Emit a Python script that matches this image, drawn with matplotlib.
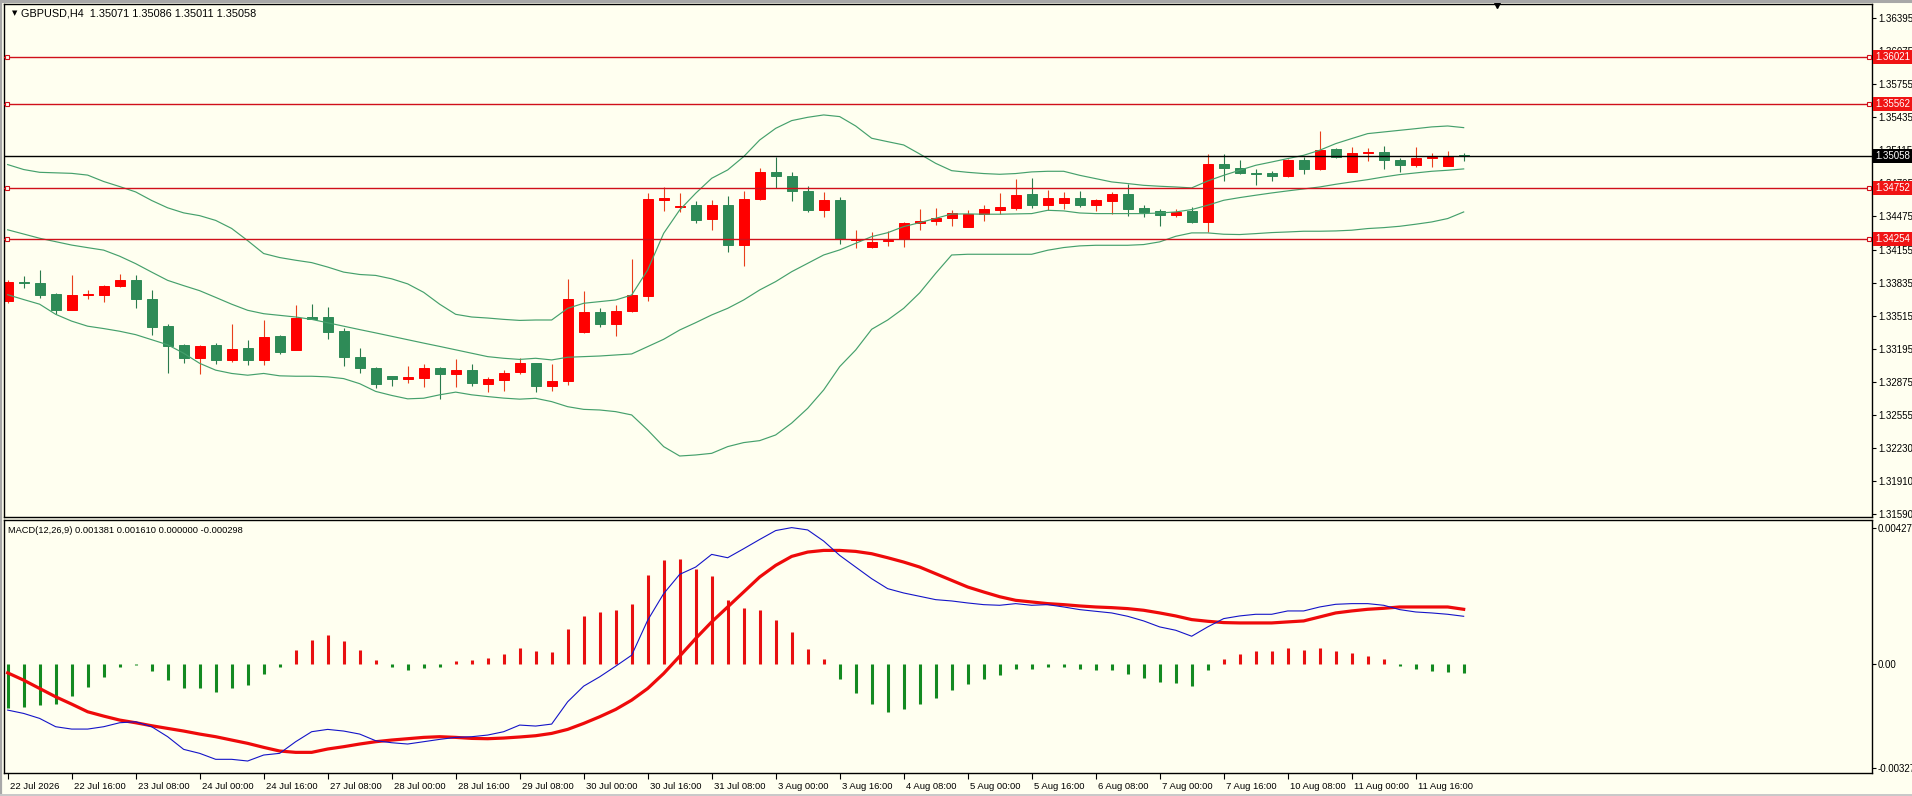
import matplotlib
matplotlib.use("Agg")
import matplotlib.pyplot as plt
import numpy as np
from matplotlib.lines import Line2D
from matplotlib.transforms import blended_transform_factory, ScaledTranslation

# ---- GBPUSD H4 candles (22 Jul 2026 00:00 .. 12 Aug 04:00) ----
open_ = [1.33658, 1.33838, 1.33835, 1.33723, 1.33573, 1.33714, 1.33714, 1.33799, 1.33861, 1.33674,
         1.33412, 1.33225, 1.33101, 1.33225, 1.33081, 1.33196, 1.33081, 1.33314, 1.33186, 1.33497,
         1.33501, 1.33363, 1.33114, 1.33009, 1.32927, 1.32904, 1.32914, 1.33009, 1.32953, 1.32990,
         1.32849, 1.32891, 1.32972, 1.33052, 1.32836, 1.32884, 1.33353, 1.33550, 1.33437, 1.33556,
         1.33708, 1.34638, 1.34564, 1.34583, 1.34454, 1.34583, 1.34202, 1.34642, 1.34906, 1.34864,
         1.34722, 1.34541, 1.34635, 1.34247, 1.34176, 1.34235, 1.34254, 1.34415, 1.34428, 1.34457,
         1.34374, 1.34500, 1.34539, 1.34558, 1.34690, 1.34587, 1.34610, 1.34658, 1.34587, 1.34629,
         1.34690, 1.34555, 1.34526, 1.34487, 1.34529, 1.34426, 1.34987, 1.34945, 1.34900, 1.34894,
         1.34871, 1.35026, 1.34936, 1.35133, 1.34910, 1.35091, 1.35104, 1.35026, 1.34974, 1.35042,
         1.34968, 1.35071]
high = [1.33861, 1.33894, 1.33953, 1.33733, 1.33904, 1.33763, 1.33809, 1.33920, 1.33904, 1.33763,
        1.33432, 1.33239, 1.33225, 1.33252, 1.33435, 1.33275, 1.33471, 1.33324, 1.33619, 1.33628,
        1.33602, 1.33396, 1.33199, 1.33019, 1.32934, 1.33029, 1.33042, 1.33016, 1.33098, 1.33042,
        1.32917, 1.32986, 1.33101, 1.33059, 1.33046, 1.33866, 1.33753, 1.33589, 1.33618, 1.34067,
        1.34700, 1.34761, 1.34700, 1.34625, 1.34635, 1.34674, 1.34722, 1.34942, 1.35055, 1.34906,
        1.34774, 1.34713, 1.34661, 1.34344, 1.34322, 1.34335, 1.34422, 1.34548, 1.34558, 1.34538,
        1.34540, 1.34590, 1.34700, 1.34836, 1.34852, 1.34729, 1.34710, 1.34723, 1.34648, 1.34713,
        1.34787, 1.34584, 1.34545, 1.34548, 1.34568, 1.35078, 1.35084, 1.35026, 1.34939, 1.34916,
        1.35036, 1.35052, 1.35301, 1.35139, 1.35149, 1.35142, 1.35155, 1.35045, 1.35149, 1.35091,
        1.35107, 1.35086]
low = [1.33641, 1.33782, 1.33681, 1.33527, 1.33566, 1.33671, 1.33648, 1.33789, 1.33592, 1.33330,
       1.32963, 1.33052, 1.32944, 1.33042, 1.33062, 1.33035, 1.33035, 1.33140, 1.33180, 1.33478,
       1.33288, 1.33022, 1.32963, 1.32816, 1.32829, 1.32865, 1.32826, 1.32708, 1.32822, 1.32832,
       1.32773, 1.32786, 1.32949, 1.32778, 1.32787, 1.32839, 1.33347, 1.33408, 1.33320, 1.33550,
       1.33656, 1.34532, 1.34522, 1.34415, 1.34344, 1.34131, 1.33999, 1.34635, 1.34751, 1.34625,
       1.34519, 1.34467, 1.34209, 1.34167, 1.34167, 1.34189, 1.34183, 1.34344, 1.34390, 1.34386,
       1.34370, 1.34432, 1.34497, 1.34535, 1.34558, 1.34535, 1.34545, 1.34568, 1.34529, 1.34503,
       1.34480, 1.34471, 1.34384, 1.34471, 1.34413, 1.34322, 1.34820, 1.34884, 1.34784, 1.34820,
       1.34858, 1.34891, 1.34929, 1.35042, 1.34905, 1.35013, 1.34936, 1.34903, 1.34955, 1.34955,
       1.34965, 1.35011]
close_ = [1.33845, 1.33831, 1.33717, 1.33573, 1.33714, 1.33723, 1.33802, 1.33861, 1.33671, 1.33406,
          1.33219, 1.33101, 1.33222, 1.33081, 1.33193, 1.33081, 1.33311, 1.33166, 1.33494, 1.33484,
          1.33356, 1.33111, 1.33003, 1.32855, 1.32904, 1.32917, 1.33006, 1.32953, 1.32986, 1.32865,
          1.32898, 1.32960, 1.33052, 1.32836, 1.32884, 1.33673, 1.33550, 1.33437, 1.33559, 1.33711,
          1.34645, 1.34651, 1.34574, 1.34444, 1.34583, 1.34202, 1.34642, 1.34903, 1.34871, 1.34719,
          1.34538, 1.34632, 1.34260, 1.34257, 1.34231, 1.34251, 1.34415, 1.34428, 1.34461, 1.34506,
          1.34500, 1.34545, 1.34564, 1.34687, 1.34587, 1.34658, 1.34658, 1.34587, 1.34632, 1.34690,
          1.34548, 1.34519, 1.34490, 1.34516, 1.34419, 1.34987, 1.34949, 1.34900, 1.34891, 1.34871,
          1.35026, 1.34936, 1.35123, 1.35052, 1.35094, 1.35104, 1.35023, 1.34974, 1.35045, 1.35055,
          1.35065, 1.35058]

# ---- Bollinger bands as drawn ----
bb_upper = [1.34978, 1.34930, 1.34903, 1.34898, 1.34893, 1.34876, 1.34814, 1.34765, 1.34713, 1.34630,
            1.34559, 1.34510, 1.34483, 1.34437, 1.34359, 1.34241, 1.34116, 1.34077, 1.34051, 1.34028,
            1.33985, 1.33936, 1.33913, 1.33904, 1.33871, 1.33822, 1.33740, 1.33625, 1.33527, 1.33501,
            1.33491, 1.33478, 1.33468, 1.33472, 1.33472, 1.33585, 1.33634, 1.33650, 1.33666, 1.33714,
            1.33957, 1.34312, 1.34538, 1.34700, 1.34845, 1.34926, 1.35055, 1.35216, 1.35329, 1.35404,
            1.35436, 1.35459, 1.35443, 1.35352, 1.35233, 1.35200, 1.35168, 1.35081, 1.34990, 1.34919,
            1.34903, 1.34891, 1.34884, 1.34891, 1.34907, 1.34913, 1.34913, 1.34874, 1.34842, 1.34810,
            1.34794, 1.34777, 1.34768, 1.34761, 1.34752, 1.34819, 1.34874, 1.34923, 1.34971, 1.35003,
            1.35036, 1.35068, 1.35117, 1.35181, 1.35230, 1.35278, 1.35294, 1.35310, 1.35326, 1.35343,
            1.35352, 1.35336]
bb_middle = [1.34346, 1.34305, 1.34264, 1.34231, 1.34198, 1.34173, 1.34149, 1.34090, 1.34018, 1.33936,
             1.33856, 1.33805, 1.33756, 1.33691, 1.33625, 1.33566, 1.33533, 1.33517, 1.33501, 1.33478,
             1.33445, 1.33412, 1.33379, 1.33347, 1.33314, 1.33281, 1.33248, 1.33216, 1.33183, 1.33150,
             1.33117, 1.33101, 1.33090, 1.33101, 1.33085, 1.33111, 1.33117, 1.33123, 1.33133, 1.33143,
             1.33214, 1.33285, 1.33375, 1.33446, 1.33521, 1.33585, 1.33666, 1.33763, 1.33844, 1.33940,
             1.34021, 1.34102, 1.34151, 1.34215, 1.34280, 1.34318, 1.34377, 1.34415, 1.34457, 1.34499,
             1.34500, 1.34497, 1.34497, 1.34500, 1.34503, 1.34535, 1.34529, 1.34509, 1.34503, 1.34503,
             1.34503, 1.34503, 1.34509, 1.34519, 1.34542, 1.34584, 1.34632, 1.34658, 1.34681, 1.34703,
             1.34723, 1.34742, 1.34761, 1.34787, 1.34810, 1.34832, 1.34858, 1.34881, 1.34897, 1.34913,
             1.34923, 1.34936]
bb_lower = [1.33717, 1.33670, 1.33625, 1.33527, 1.33461, 1.33412, 1.33389, 1.33363, 1.33330, 1.33281,
            1.33232, 1.33150, 1.33052, 1.32986, 1.32954, 1.32937, 1.32954, 1.32931, 1.32927, 1.32927,
            1.32921, 1.32904, 1.32855, 1.32780, 1.32741, 1.32708, 1.32714, 1.32747, 1.32773, 1.32747,
            1.32730, 1.32715, 1.32705, 1.32713, 1.32681, 1.32632, 1.32606, 1.32600, 1.32584, 1.32552,
            1.32406, 1.32245, 1.32154, 1.32164, 1.32180, 1.32245, 1.32284, 1.32303, 1.32358, 1.32473,
            1.32616, 1.32794, 1.33020, 1.33181, 1.33382, 1.33472, 1.33585, 1.33735, 1.33924, 1.34102,
            1.34109, 1.34109, 1.34109, 1.34109, 1.34109, 1.34148, 1.34174, 1.34190, 1.34196, 1.34196,
            1.34196, 1.34203, 1.34229, 1.34283, 1.34316, 1.34316, 1.34303, 1.34300, 1.34309, 1.34319,
            1.34325, 1.34332, 1.34332, 1.34335, 1.34342, 1.34358, 1.34367, 1.34380, 1.34400, 1.34422,
            1.34455, 1.34519]

# ---- MACD(12,26,9) ----
macd_main = [-0.001464, -0.001569, -0.001726, -0.001987, -0.002061, -0.002061, -0.001987, -0.001862,
             -0.001831, -0.001987, -0.002301, -0.002699, -0.002824, -0.003012, -0.003012, -0.003065,
             -0.002877, -0.002824, -0.002458, -0.002144, -0.002071, -0.002123, -0.002218, -0.002427,
             -0.002490, -0.002531, -0.002458, -0.002385, -0.002322, -0.002301, -0.002249, -0.002144,
             -0.001935, -0.001966, -0.001904, -0.001203, -0.000711, -0.000418, -0.000084, 0.000262,
             0.001360, 0.002197, 0.002803, 0.003033, 0.003431, 0.003326, 0.003609, 0.003900,
             0.004180, 0.004273, 0.004200, 0.003850, 0.003400, 0.003033, 0.002667, 0.002354,
             0.002218, 0.002113, 0.002008, 0.001967, 0.001904, 0.001851, 0.001831, 0.001883,
             0.001831, 0.001851, 0.001778, 0.001695, 0.001642, 0.001590, 0.001485, 0.001339,
             0.001151, 0.001046, 0.000858, 0.001151, 0.001412, 0.001496, 0.001548, 0.001548,
             0.001653, 0.001653, 0.001778, 0.001862, 0.001883, 0.001883, 0.001831, 0.001695,
             0.001621, 0.001590, 0.001548, 0.001485]
macd_signal = [-0.000293, -0.000523, -0.000785, -0.001046, -0.001276, -0.001517, -0.001653, -0.001778,
               -0.001862, -0.001956, -0.002040, -0.002123, -0.002218, -0.002301, -0.002406, -0.002510,
               -0.002636, -0.002751, -0.002793, -0.002793, -0.002688, -0.002615, -0.002531, -0.002458,
               -0.002406, -0.002364, -0.002322, -0.002301, -0.002322, -0.002354, -0.002364, -0.002343,
               -0.002310, -0.002270, -0.002197, -0.002071, -0.001883, -0.001674, -0.001443, -0.001151,
               -0.000785, -0.000314, 0.000230, 0.000785, 0.001308, 0.001778, 0.002249, 0.002720,
               0.003086, 0.003368, 0.003504, 0.003556, 0.003556, 0.003525, 0.003452, 0.003326,
               0.003190, 0.003033, 0.002824, 0.002615, 0.002406, 0.002249, 0.002100, 0.001987,
               0.001935, 0.001883, 0.001851, 0.001810, 0.001778, 0.001757, 0.001726, 0.001674,
               0.001590, 0.001496, 0.001381, 0.001328, 0.001287, 0.001276, 0.001276, 0.001276,
               0.001308, 0.001339, 0.001464, 0.001590, 0.001653, 0.001705, 0.001736, 0.001778,
               0.001778, 0.001778, 0.001778, 0.001705]
macd_hist = [-0.001412, -0.001360, -0.001308, -0.001276, -0.001015, -0.000732, -0.000418, -0.000105,
             -0.000052, -0.000230, -0.000523, -0.000764, -0.000785, -0.000889, -0.000764, -0.000680,
             -0.000335, -0.000105, 0.000418, 0.000753, 0.000889, 0.000711, 0.000418, 0.000105,
             -0.000105, -0.000209, -0.000136, -0.000105, 0.000073, 0.000105, 0.000188, 0.000314,
             0.000481, 0.000387, 0.000356, 0.001098, 0.001485, 0.001611, 0.001695, 0.001862,
             0.002772, 0.003243, 0.003295, 0.002981, 0.002741, 0.002008, 0.001757, 0.001674,
             0.001381, 0.000994, 0.000471, 0.000157, -0.000471, -0.000920, -0.001287, -0.001517,
             -0.001423, -0.001276, -0.001077, -0.000837, -0.000638, -0.000471, -0.000356, -0.000178,
             -0.000167, -0.000105, -0.000105, -0.000167, -0.000209, -0.000209, -0.000314, -0.000450,
             -0.000575, -0.000607, -0.000711, -0.000209, 0.000136, 0.000293, 0.000397, 0.000397,
             0.000481, 0.000439, 0.000481, 0.000397, 0.000324, 0.000251, 0.000136, -0.000084,
             -0.000167, -0.000241, -0.000272, -0.000298]

# horizontal lines on the chart
levels = [1.36021, 1.35562, 1.34752, 1.34254]
bid = 1.35058

price_ticks = [1.36395, 1.36075, 1.35755, 1.35435, 1.35115, 1.34795, 1.34475, 1.34155,
               1.33835, 1.33515, 1.33195, 1.32875, 1.32555, 1.32230, 1.31910, 1.31590]
macd_ticks = [0.004273, 0.0, -0.00327]
macd_tick_labels = ["0.004273", "0.00", "-0.00327"]
date_labels = ["22 Jul 2026", "22 Jul 16:00", "23 Jul 08:00", "24 Jul 00:00", "24 Jul 16:00",
               "27 Jul 08:00", "28 Jul 00:00", "28 Jul 16:00", "29 Jul 08:00", "30 Jul 00:00",
               "30 Jul 16:00", "31 Jul 08:00", "3 Aug 00:00", "3 Aug 16:00", "4 Aug 08:00",
               "5 Aug 00:00", "5 Aug 16:00", "6 Aug 08:00", "7 Aug 00:00", "7 Aug 16:00",
               "10 Aug 08:00", "11 Aug 00:00", "11 Aug 16:00"]
macd_title = "MACD(12,26,9) 0.001381 0.001610 0.000000 -0.000298"

BG = "#FFFFF0"
UP_BODY = "#FF0000"
UP_WICK = "#E8401C"
DN_BODY = "#2E8B57"
DN_WICK = "#2A7A4C"
BAND = "#45A06C"
LEVEL = "#D0101A"
FONT = "Liberation Sans"

plt.rcParams["font.family"] = [FONT, "DejaVu Sans"]
plt.rcParams["font.size"] = 7

o = np.array(open_)
h = np.array(high)
l = np.array(low)
c = np.array(close_)
x = np.arange(len(c))
up = c >= o

W, H = 1912, 796
fig = plt.figure(figsize=(W / 100, H / 100), dpi=100, facecolor=BG)
left = 3.5 / W
width = (1872 - 3.5) / W
ax1 = fig.add_axes([left, (H - 517) / H, width, (517 - 4) / H], facecolor=BG)
ax2 = fig.add_axes([left, (H - 773) / H, width, (773 - 519.5) / H], facecolor=BG)

xmin, xmax = -0.26, 116.52

# ---- main chart ----
ax1.vlines(x[up], l[up], h[up], color=UP_WICK, lw=0.8, zorder=2)
ax1.vlines(x[~up], l[~up], h[~up], color=DN_WICK, lw=0.8, zorder=2)
ax1.bar(x[up], (c - o)[up], bottom=o[up], width=0.62, color=UP_BODY,
        edgecolor=UP_BODY, linewidth=0.7, zorder=2.2)
ax1.bar(x[~up], (o - c)[~up], bottom=c[~up], width=0.62, color=DN_BODY,
        edgecolor=DN_BODY, linewidth=0.7, zorder=2.2)

for band in (bb_upper, bb_middle, bb_lower):
    ax1.plot(x, band, color=BAND, lw=0.85, zorder=3)

trans1 = blended_transform_factory(ax1.transAxes, ax1.transData)
for lv in levels:
    ax1.axhline(lv, color=LEVEL, lw=1.0, zorder=4)
    ax1.plot([0.0019, 0.9984], [lv, lv], "s", ms=3.2, mfc=BG, mec=LEVEL, mew=0.8,
             transform=trans1, zorder=5, clip_on=False)
    ax1.text(1.0016, lv, f"{lv:.5f}", transform=trans1, ha="left", va="center",
             color="white", fontsize=7, zorder=10, clip_on=False,
             bbox=dict(boxstyle="square,pad=0.22", fc="#F01414", ec="none"))
ax1.axhline(bid, color="black", lw=1.0, zorder=4)
ax1.text(1.0016, bid, f"{bid:.5f}", transform=trans1, ha="left", va="center",
         color="white", fontsize=7, zorder=10, clip_on=False,
         bbox=dict(boxstyle="square,pad=0.22", fc="black", ec="none"))

ax1.set_xlim(xmin, xmax)
ax1.set_ylim(1.31563, 1.36534)
ax1.yaxis.tick_right()
ax1.set_yticks(price_ticks)
ax1.set_yticklabels([f"{t:.5f}" for t in price_ticks])
ax1.tick_params(axis="y", direction="out", length=3, width=0.8, pad=1.3, labelsize=7)
ax1.set_xticks([])

# chart shift marker on top border
ax1.plot([93.1], [1.0], marker="v", ms=6, color="black",
         transform=blended_transform_factory(ax1.transData, ax1.transAxes),
         clip_on=False, zorder=10)

title = f"GBPUSD,H4  {o[-1]:.5f} {h[-1]:.5f} {l[-1]:.5f} {c[-1]:.5f}"
ax1.text(0.0045, 0.982, "\u25bc", transform=ax1.transAxes, fontsize=5,
         family="DejaVu Sans", va="center", ha="left")
ax1.text(0.0095, 0.982, title, transform=ax1.transAxes, fontsize=7.8, va="center", ha="left")

# ---- MACD window ----
hist = np.array(macd_hist)
hist_colors = np.where(hist > 0, "#E81010", "#138A20")
ax2.vlines(x, 0, hist, colors=hist_colors, lw=2.2, zorder=2)
ax2.plot(x, macd_signal, color="#EE0A0A", lw=2.3, zorder=3)
ax2.plot(x, macd_main, color="#1414C8", lw=0.8, zorder=4)

ax2.set_xlim(xmin, xmax)
ax2.set_ylim(-0.003442, 0.004528)
ax2.yaxis.tick_right()
ax2.set_yticks(macd_ticks)
ax2.set_yticklabels(macd_tick_labels)
ax2.tick_params(axis="y", direction="out", length=3, width=0.8, pad=1.3, labelsize=7)

tick_pos = x[::4][:len(date_labels)]
ax2.set_xticks(tick_pos)
ax2.set_xticklabels(date_labels, ha="left")
ax2.tick_params(axis="x", direction="out", length=4, width=0.8, pad=2.5, labelsize=6.8)
shift = ScaledTranslation(1.5 / 72, 0, fig.dpi_scale_trans)
for lab in ax2.get_xticklabels():
    lab.set_transform(lab.get_transform() + shift)

ax2.text(0.0025, 0.955, macd_title, transform=ax2.transAxes, fontsize=6.7, va="center", ha="left")

for ax in (ax1, ax2):
    for sp in ax.spines.values():
        sp.set_color("black")
        sp.set_linewidth(1.0)

# grey window frame
fig.add_artist(Line2D([0, 1], [1 - 1.2 / H, 1 - 1.2 / H], transform=fig.transFigure,
                      color="#A8A8A8", lw=2.2))
fig.add_artist(Line2D([1.0 / W, 1.0 / W], [0, 1], transform=fig.transFigure,
                      color="#A8A8A8", lw=1.6))
fig.add_artist(Line2D([0, 1], [1.0 / H, 1.0 / H], transform=fig.transFigure,
                      color="#C8C8C8", lw=1.4))

fig.savefig("out.png", dpi=100, facecolor=BG)
